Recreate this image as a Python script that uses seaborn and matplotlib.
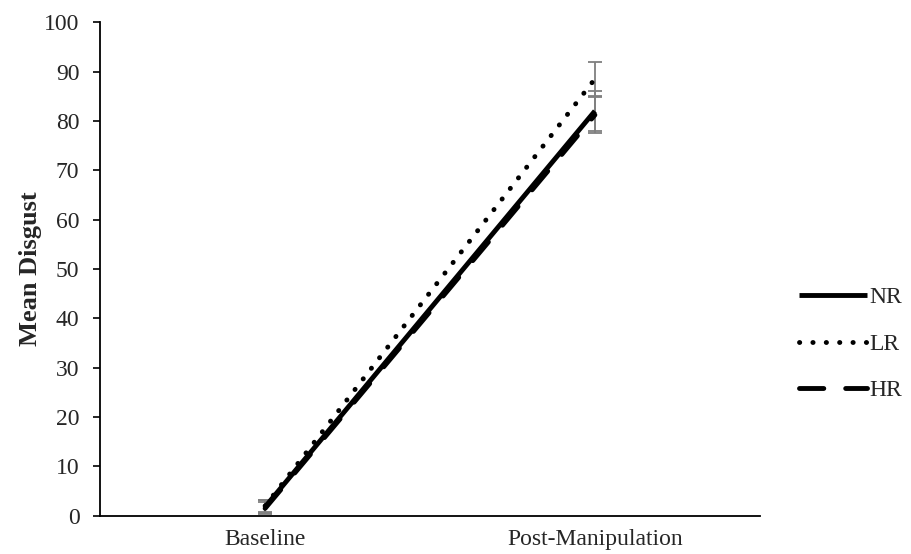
import matplotlib
matplotlib.use("Agg")
import matplotlib.pyplot as plt
import seaborn as sns
import pandas as pd

# data
phases = ["Baseline", "Post-Manipulation"]
groups = ["NR", "LR", "HR"]
nr_mean = [1.8, 82.0]
lr_mean = [2.0, 88.5]
hr_mean = [1.5, 81.2]
nr_err = [1.3, 4.0]
lr_err = [1.2, 3.4]
hr_err = [1.2, 3.6]

means = {"NR": nr_mean, "LR": lr_mean, "HR": hr_mean}
errs = {"NR": nr_err, "LR": lr_err, "HR": hr_err}

rows = []
for g in groups:
    for i, p in enumerate(phases):
        rows.append({"phase": p, "group": g, "disgust": means[g][i], "err": errs[g][i]})
df = pd.DataFrame(rows)

sns.set_style("white")
plt.rcParams["font.family"] = ["Liberation Serif", "DejaVu Serif"]

fig, ax = plt.subplots(figsize=(9.11, 5.54), dpi=100)
fig.subplots_adjust(left=0.11, right=0.834, top=0.96, bottom=0.069)

# error bars first so the lines sit on top
for g in groups:
    sub = df[df.group == g]
    ax.errorbar([0, 1], sub.disgust, yerr=sub.err, fmt="none", ecolor="#7f7f7f",
                elinewidth=1.3, capsize=5, capthick=1.3, zorder=2)

sns.lineplot(data=df, x="phase", y="disgust", hue="group", style="group",
             hue_order=groups, style_order=groups,
             palette={"NR": "black", "LR": "black", "HR": "black"},
             dashes={"NR": "", "LR": (0.05, 2.7), "HR": (5, 4.5)},
             linewidth=3.5, errorbar=None, ax=ax, zorder=3)

for line in ax.get_lines():
    line.set_dash_capstyle("round")
    line.set_solid_capstyle("butt")

ax.set_xlim(-0.5, 1.5)
ax.set_ylim(0, 100)
ax.set_yticks(range(0, 101, 10))
ax.set_xlabel("")
ax.set_ylabel("Mean Disgust", fontsize=19, fontweight="bold")
ax.yaxis.set_label_coords(-0.088, 0.5)
ax.tick_params(axis="y", left=True, length=5, width=1.2, labelsize=17, pad=10, color="black")
ax.tick_params(axis="x", bottom=False, labelsize=17, pad=6)

sns.despine(ax=ax)
for s in ["left", "bottom"]:
    ax.spines[s].set_color("black")
    ax.spines[s].set_linewidth(1.3)

handles, labels = ax.get_legend_handles_labels()
leg = ax.legend(handles, labels, loc="center left", bbox_to_anchor=(0.877, 0.379),
                bbox_transform=fig.transFigure, borderpad=0, borderaxespad=0,
                frameon=False, fontsize=17, handlelength=2.9, handletextpad=0.1,
                labelspacing=1.05)
for h in leg.get_lines():
    h.set_linewidth(3.5)
    h.set_dash_capstyle("round")

fig.savefig("out.png", dpi=100)
